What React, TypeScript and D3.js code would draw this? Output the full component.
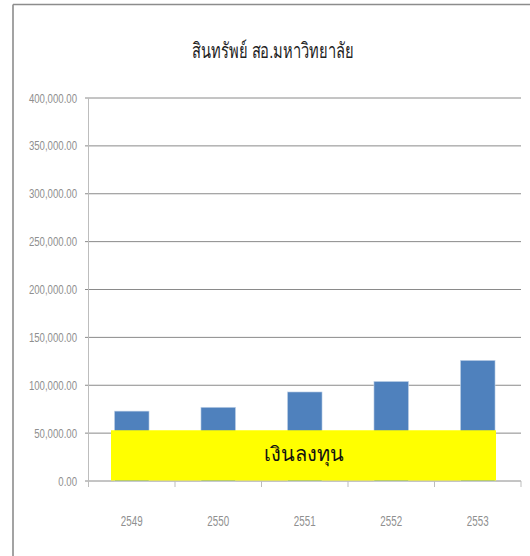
import React from "react";
import * as d3 from "d3";

const title = "สินทรัพย์ สอ.มหาวิทยาลัย";
const categories = ["2549", "2550", "2551", "2552", "2553"];
const values = [73000, 77000, 93000, 104000, 126000];
const yTicks = [0, 50000, 100000, 150000, 200000, 250000, 300000, 350000, 400000];
const overlayLabel = "เงินลงทุน";
const overlayRange = [500, 53000];

const W = 530;
const H = 556;
const left = 88.5;
const right = 521;
const top = 98;
const bottom = 481;

export default function App() {
  const x = d3.scaleBand<string>().domain(categories).range([left, right]).paddingInner(0.6).paddingOuter(0.3);
  const xb = d3.scaleBand<string>().domain(categories).range([left, right]);
  const y = d3.scaleLinear().domain([0, 400000]).range([bottom, top]);
  const fmt = d3.format(",.2f");
  const font = "'Liberation Sans', 'Noto Sans', sans-serif";
  const boundaries = [...categories.map((c) => xb(c) as number), right];
  const ovX0 = (xb(categories[0]) as number) + 22.5;
  const ovX1 = (xb(categories[categories.length - 1]) as number) + xb.bandwidth() - 25;
  return (
    <svg width={W} height={H} style={{ position: "absolute", left: 0, top: 0, background: "#fff" }}>
      <rect x={0} y={0} width={W} height={H} fill="#fff" />
      <line x1={13} y1={4.5} x2={W} y2={4.5} stroke="#8c8c8c" strokeWidth={1.6} />
      <line x1={13} y1={4.5} x2={13} y2={H} stroke="#8c8c8c" strokeWidth={1.6} />
      <text transform={`translate(273,58) scale(0.7,1)`} textAnchor="middle" fontFamily={font} fontSize={21} fill="#222">
        {title}
      </text>
      {yTicks.map((t) => (
        <g key={t}>
          <line x1={85} x2={right} y1={y(t)} y2={y(t)} stroke="#8a8a8a" strokeWidth={1} />
          <text transform={`translate(77,${y(t) + 4.5}) scale(0.74,1)`} textAnchor="end" fontFamily={font} fontSize={13} fill="#8f8f8f">
            {fmt(t)}
          </text>
        </g>
      ))}
      <line x1={left} x2={left} y1={top} y2={bottom} stroke="#bdbdbd" strokeWidth={1} />
      {boundaries.map((b, i) => (
        <line key={i} x1={b} x2={b} y1={bottom} y2={bottom + 6} stroke="#bdbdbd" strokeWidth={1} />
      ))}
      {categories.map((c, i) => (
        <rect key={c} x={x(c)} y={y(values[i])} width={x.bandwidth()} height={bottom - y(values[i])} fill="#4f81bd" stroke="#c6d6ea" strokeWidth={0.6} />
      ))}
      {categories.map((c) => (
        <text key={c} transform={`translate(${(xb(c) as number) + xb.bandwidth() / 2},526) scale(0.7,1)`} textAnchor="middle" fontFamily={font} fontSize={14} fill="#8f8f8f">
          {c}
        </text>
      ))}
      <rect x={ovX0} y={y(overlayRange[1])} width={ovX1 - ovX0} height={y(overlayRange[0]) - y(overlayRange[1])} fill="#ffff00" />
      <text x={(ovX0 + ovX1) / 2} y={461} textAnchor="middle" fontFamily={font} fontSize={20} fontWeight={400} fill="#111">
        {overlayLabel}
      </text>
    </svg>
  );
}
